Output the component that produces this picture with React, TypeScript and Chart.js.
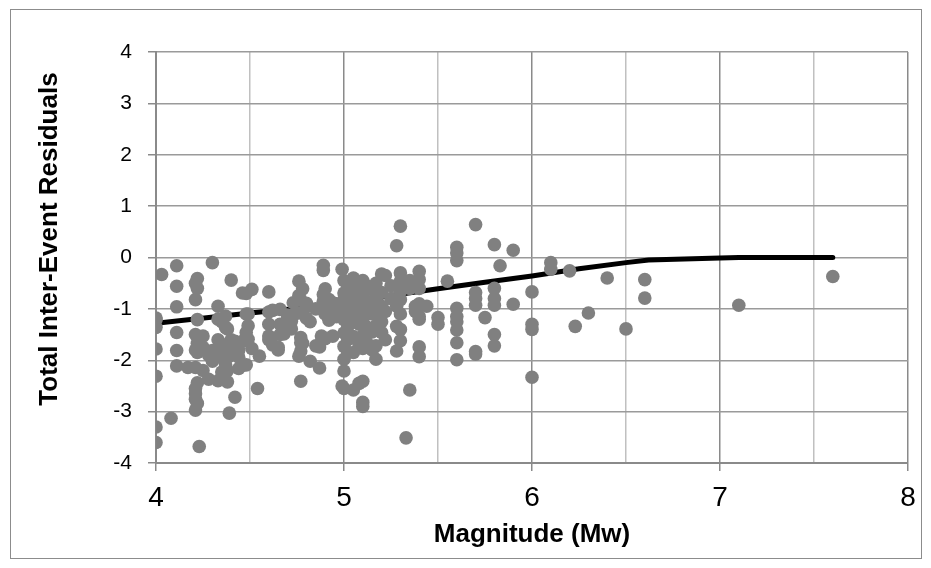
import React, { useEffect, useRef } from "react";
import { Chart, registerables } from "chart.js";

Chart.register(...registerables);

// Scatter: magnitude (Mw) and total inter-event residual
const magnitudes: number[] = [
  4.0, 4.0, 4.0, 4.0, 4.0, 4.0, 4.0,
  4.03, 4.08,
  4.11, 4.11, 4.11, 4.11, 4.11, 4.11,
  4.17,
  4.21, 4.21, 4.21, 4.21, 4.21, 4.21, 4.21, 4.21, 4.21,
  4.22, 4.22, 4.22, 4.22, 4.22, 4.22, 4.22,
  4.23,
  4.25, 4.25, 4.25,
  4.28, 4.28,
  4.30, 4.30, 4.30,
  4.33, 4.33, 4.33, 4.33,
  4.35, 4.35, 4.35, 4.35,
  4.37, 4.37, 4.37, 4.37,
  4.38, 4.38, 4.38,
  4.39, 4.39,
  4.40, 4.40, 4.40,
  4.42, 4.42,
  4.44, 4.44, 4.44,
  4.46, 4.46, 4.46,
  4.48, 4.48, 4.48, 4.48,
  4.49, 4.49, 4.49,
  4.51, 4.51,
  4.54, 4.55,
  4.60, 4.60, 4.60, 4.60, 4.60,
  4.62, 4.62,
  4.65, 4.65,
  4.66, 4.66, 4.66,
  4.68, 4.68,
  4.70, 4.70,
  4.72, 4.72, 4.72,
  4.73, 4.73,
  4.76, 4.76, 4.76, 4.76,
  4.77, 4.77, 4.77, 4.77, 4.77,
  4.78, 4.78,
  4.80, 4.80, 4.80,
  4.82, 4.82,
  4.85, 4.85,
  4.87, 4.87,
  4.88, 4.88,
  4.89, 4.89, 4.89, 4.89,
  4.90, 4.90, 4.90,
  4.92, 4.92, 4.92,
  4.94, 4.94, 4.94,
  4.96, 4.96,
  4.99, 4.99,
  5.0, 5.0, 5.0, 5.0, 5.0, 5.0, 5.0, 5.0, 5.0, 5.0, 5.0,
  5.02, 5.02, 5.02, 5.02,
  5.05, 5.05, 5.05, 5.05, 5.05, 5.05, 5.05, 5.05, 5.05, 5.05,
  5.08, 5.08, 5.08, 5.08, 5.08, 5.08,
  5.10, 5.10, 5.10, 5.10, 5.10, 5.10, 5.10, 5.10, 5.10, 5.10,
  5.12, 5.12, 5.12, 5.12,
  5.15, 5.15, 5.15, 5.15, 5.15,
  5.17, 5.17, 5.17, 5.17, 5.17, 5.17,
  5.20, 5.20, 5.20, 5.20, 5.20,
  5.22, 5.22, 5.22,
  5.25, 5.25,
  5.28, 5.28, 5.28, 5.28,
  5.30, 5.30, 5.30, 5.30, 5.30, 5.30, 5.30, 5.30,
  5.33,
  5.35, 5.35, 5.35,
  5.38, 5.38,
  5.40, 5.40, 5.40, 5.40, 5.40, 5.40, 5.40, 5.40,
  5.44,
  5.50, 5.50,
  5.55,
  5.60, 5.60, 5.60, 5.60, 5.60, 5.60, 5.60, 5.60, 5.60,
  5.70, 5.70, 5.70, 5.70, 5.70, 5.70,
  5.75,
  5.80, 5.80, 5.80, 5.80, 5.80, 5.80,
  5.83,
  5.90, 5.90,
  6.0, 6.0, 6.0, 6.0,
  6.10, 6.10,
  6.20, 6.23, 6.30, 6.40, 6.50,
  6.60, 6.60,
  7.10, 7.60,
];

const residuals: number[] = [
  -1.18, -1.21, -1.36, -1.78, -2.31, -3.30, -3.60,
  -0.33, -3.13,
  -0.16, -0.56, -0.96, -1.46, -1.81, -2.11,
  -2.14,
  -0.5, -0.82, -1.5, -1.8, -2.14, -2.55, -2.65, -2.76, -2.97,
  -0.41, -0.6, -1.21, -1.67, -1.85, -2.44, -2.84,
  -3.68,
  -1.53, -1.75, -2.2,
  -2.37, -1.9,
  -0.10, -1.81, -2.02,
  -0.95, -1.2, -1.6, -2.4,
  -1.25, -1.74, -1.95, -2.23,
  -1.36, -1.7, -2.09, -1.14,
  -1.39, -2.42, -2.2,
  -3.03, -1.92,
  -0.44, -1.6, -1.74,
  -2.72, -1.63,
  -2.16, -1.94, -1.8,
  -0.69, -1.63, -2.1,
  -1.46, -1.1, -0.7, -2.09,
  -1.33, -1.59, -1.1,
  -0.62, -1.77,
  -2.55, -1.92,
  -0.67, -1.06, -1.53, -1.3, -1.6,
  -1.03, -1.7,
  -1.8, -1.75,
  -1.01, -1.3, -1.5,
  -1.32, -1.49,
  -1.18, -1.12,
  -1.24, -1.39, -1.21,
  -0.88, -1.12,
  -0.46, -0.74, -1.08, -1.92,
  -0.83, -1.56, -1.66, -1.82, -2.41,
  -0.61, -1.67,
  -0.95, -0.89, -1.18,
  -2.02, -1.25,
  -1.72, -1.0,
  -2.15, -1.74,
  -1.0, -1.53,
  -0.15, -0.25, -0.72, -0.85,
  -1.1, -1.58, -0.61,
  -0.82, -1.22, -0.93,
  -0.88, -1.0, -1.53,
  -0.9, -1.15,
  -0.23, -2.5,
  -0.45, -0.69, -0.95, -1.21, -1.47, -1.73, -1.98, -2.21, -2.55, -0.82, -1.1,
  -0.58, -1.35, -1.6, -1.85,
  -0.4, -0.7, -0.95, -1.21, -1.54, -2.58, -0.5, -0.85, -1.1, -1.85,
  -0.6, -0.9, -1.3, -1.7, -2.45, -0.75,
  -0.45, -0.75, -1.07, -1.52, -1.77, -2.41, -2.82, -2.9, -1.2, -0.95,
  -0.55, -0.85, -1.35, -1.65,
  -0.62, -0.9, -1.1, -1.45, -1.8,
  -0.8, -1.07, -1.33, -1.72, -1.98, -0.5,
  -0.32, -0.68, -0.95, -1.25, -1.46,
  -0.35, -1.05, -1.6,
  -0.8, -0.55,
  0.23, -1.34, -1.82, -0.95,
  0.61, -0.3, -0.46, -0.82, -0.65, -1.1, -1.4, -1.62,
  -3.51,
  -0.45, -0.6, -2.58,
  -0.95, -1.05,
  -0.27, -0.43, -0.9, -1.15, -1.2, -1.74, -1.93, -0.6,
  -0.95,
  -1.17, -1.3,
  -0.46,
  0.2, 0.09, -0.06, -0.99, -1.25, -1.41, -1.66, -1.99, -1.15,
  0.64, -0.68, -0.8, -0.93, -1.88, -1.83,
  -1.17,
  0.25, -0.6, -0.8, -0.93, -1.5, -1.72,
  -0.16,
  0.14, -0.91,
  -0.67, -1.3, -1.4, -2.33,
  -0.10, -0.23,
  -0.26, -1.34, -1.08, -0.40, -1.39,
  -0.43, -0.79,
  -0.93, -0.37,
];

// Trend line
const trendMagnitudes: number[] = [4.0, 4.5, 5.0, 5.25, 5.5, 5.75, 6.0, 6.25, 6.5, 6.62, 7.0, 7.1, 7.6];
const trendResiduals: number[] = [-1.28, -1.08, -0.9, -0.74, -0.61, -0.48, -0.36, -0.22, -0.1, -0.05, -0.01, 0, 0];

const xTickLabels: number[] = [4, 5, 6, 7, 8];
const yTickLabels: number[] = [-4, -3, -2, -1, 0, 1, 2, 3, 4];

const xTitle = "Magnitude (Mw)";
const yTitle = "Total Inter-Event Residuals";

const SANS = '"Liberation Sans", Arial, sans-serif';

const decorPlugin = {
  id: "decor",
  beforeDraw(chart: any) {
    const ctx = chart.ctx;
    ctx.save();
    ctx.fillStyle = "#ffffff";
    ctx.fillRect(0, 0, chart.width, chart.height);
    ctx.strokeStyle = "#8c8c8c";
    ctx.lineWidth = 1;
    ctx.strokeRect(10.5, 9.5, 911, 549);
    ctx.restore();
  },
  afterDraw(chart: any) {
    const ctx = chart.ctx;
    const area = chart.chartArea;
    ctx.save();
    ctx.fillStyle = "#000000";
    ctx.textAlign = "center";
    ctx.textBaseline = "middle";
    ctx.font = "bold 26px " + SANS;
    ctx.fillText(xTitle, (area.left + area.right) / 2, 535);
    ctx.translate(50, 239);
    ctx.rotate(-Math.PI / 2);
    ctx.font = "bold 26px " + SANS;
    ctx.fillText(yTitle, 0, 0);
    ctx.restore();
  },
};

export default function App() {
  const ref = useRef<HTMLCanvasElement | null>(null);

  useEffect(() => {
    document.body.style.margin = "0";
    const canvas = ref.current;
    if (!canvas) return;
    const chart = new Chart(canvas, {
      type: "scatter",
      data: {
        datasets: [
          {
            label: "Residuals",
            data: magnitudes.map((m, i) => ({ x: m, y: residuals[i] })),
            backgroundColor: "#808080",
            borderColor: "#808080",
            borderWidth: 0,
            pointRadius: 6.8,
            pointHoverRadius: 6.8,
            order: 0,
          },
          {
            type: "line",
            label: "Trend",
            data: trendMagnitudes.map((m, i) => ({ x: m, y: trendResiduals[i] })),
            borderColor: "#000000",
            backgroundColor: "#000000",
            borderWidth: 5,
            pointRadius: 0,
            showLine: true,
            fill: false,
            tension: 0,
            borderCapStyle: "round",
            order: 1,
          } as any,
        ],
      },
      options: {
        responsive: false,
        animation: false,
        devicePixelRatio: 1,
        layout: { padding: { left: 0, top: 52, right: 23, bottom: 0 } },
        plugins: {
          legend: { display: false },
          tooltip: { enabled: false },
        },
        scales: {
          x: {
            type: "linear",
            min: 4,
            max: 8,
            afterFit: (s: any) => {
              s.height = 105;
            },
            afterBuildTicks: (s: any) => {
              const t = [];
              for (let v = 4; v <= 8.001; v += 0.5) t.push({ value: Math.round(v * 10) / 10 });
              s.ticks = t;
            },
            ticks: {
              autoSkip: false,
              maxRotation: 0,
              padding: 10,
              color: "#000000",
              font: { family: SANS, size: 28 },
              callback: (v: any) => (xTickLabels.includes(Number(v)) ? String(v) : ""),
            },
            grid: {
              color: (c: any) => (c.tick && Number.isInteger(c.tick.value) ? "#8a8a8a" : "#c0c0c0"),
              lineWidth: 1.5,
              tickLength: 8,
              tickColor: (c: any) => (c.tick && Number.isInteger(c.tick.value) ? "#8a8a8a" : "rgba(0,0,0,0)"),
            },
            border: { color: "#8a8a8a", width: 2 },
          },
          y: {
            type: "linear",
            min: -4,
            max: 4,
            afterFit: (s: any) => {
              s.width = 156;
            },
            afterBuildTicks: (s: any) => {
              s.ticks = yTickLabels.map((v) => ({ value: v }));
            },
            ticks: {
              padding: 16,
              color: "#000000",
              font: { family: SANS, size: 21 },
              callback: (v: any) => String(v),
            },
            grid: {
              color: "#9a9a9a",
              lineWidth: 1.5,
              tickLength: 8,
              tickColor: "#8a8a8a",
            },
            border: { color: "#8a8a8a", width: 2 },
          },
        },
      },
      plugins: [decorPlugin],
    });
    return () => chart.destroy();
  }, []);

  return (
    <div style={{ width: 931, height: 568 }}>
      <canvas ref={ref} width={931} height={568} style={{ display: "block", width: 931, height: 568 }} />
    </div>
  );
}
